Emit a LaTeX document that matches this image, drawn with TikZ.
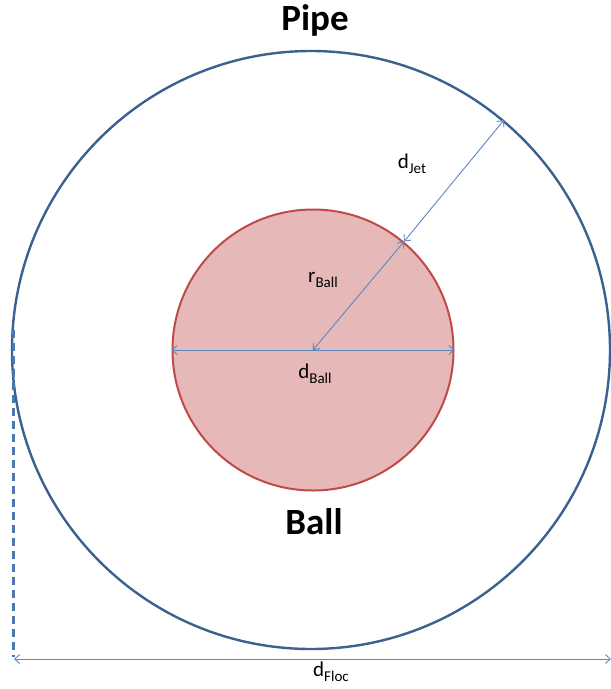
\documentclass[tikz,border=0pt]{standalone}
\usepackage{fontspec}
\setmainfont{Carlito}
\usetikzlibrary{arrows.meta}
\definecolor{pipeblue}{HTML}{3C6090}
\definecolor{dimblue}{HTML}{5B87C0}
\definecolor{dashblue}{HTML}{4A78B4}
\definecolor{ballfill}{HTML}{E6B9B8}
\definecolor{ballline}{HTML}{BE4B48}
\newcommand{\dimsub}[2]{#1\raisebox{-5pt}{\fontsize{15}{15}\selectfont #2}}
\tikzset{
  dimline/.style={draw=dimblue, line width=0.9pt, {Straight Barb[length=5pt,width=9pt]}-{Straight Barb[length=5pt,width=9pt]}},
  dimlabel/.style={font=\fontsize{21}{24}\selectfont, inner sep=0pt},
  title/.style={font=\fontsize{37}{40}\selectfont\bfseries, inner sep=0pt}
}
\begin{document}
\begin{tikzpicture}[x=1pt,y=-1pt]
\useasboundingbox (0,0) rectangle (611,689);
\node[circle, draw=pipeblue, line width=2.4pt, minimum size=598pt, inner sep=0pt] (pipe) at (311,350) {};
\node[circle, draw=ballline, fill=ballfill, line width=2pt, minimum size=281pt, inner sep=0pt] (ball) at (313,350) {};
\node[title] (pipetxt) at (315,20) {Pipe};
\node[title] (balltxt) at (314,522) {Ball};
\draw[dimline] (ball.west) -- (ball.east);
\draw[dimline] (ball.center) -- (ball.50);
\draw[dimline] (ball.50) -- (pipe.50);
\coordinate (dtop) at (13,330);
\coordinate (dbot) at (13,657);
\coordinate (fl) at (14,659);
\coordinate (fr) at (611,659);
\draw[draw=dashblue, line width=3pt, dash pattern=on 8pt off 5pt] (dtop) -- (dbot);
\draw[dimline] (fl) -- (fr);
\node[dimlabel] (lball) at (315,374) {\dimsub{d}{Ball}};
\node[dimlabel] (lr) at (323,280) {\dimsub{r}{Ball}};
\node[dimlabel] (ljet) at (412,164) {\dimsub{d}{Jet}};
\node[dimlabel] (lfloc) at (331,672) {\dimsub{d}{Floc}};
\end{tikzpicture}
\end{document}
